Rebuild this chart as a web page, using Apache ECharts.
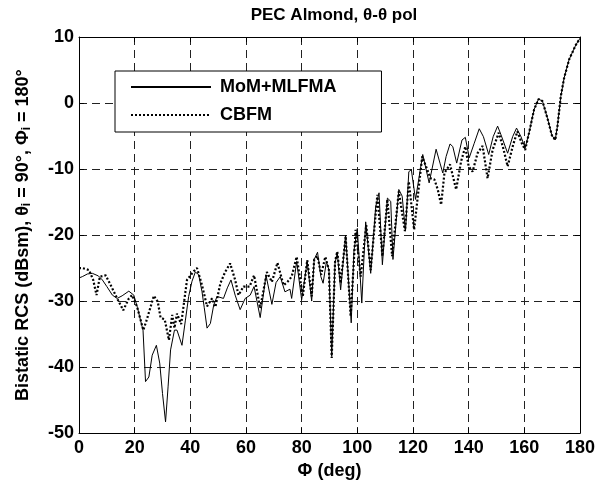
<!DOCTYPE html>
<html lang="en">

<head>
    <meta charset="UTF-8">
    <script src="https://cdn.jsdelivr.net/npm/echarts@6/dist/echarts.min.js"></script>
    <title>PEC Almond</title>
</head>

<body style="margin:0;background:#fff;">
    <div id="main" style="height: 485px;width: 608px;"></div>

    <script>
        var momPhi = [0, 1.2, 3, 4.8, 7, 8.4, 10, 12, 13.7, 15.5, 17.9, 19.7, 21, 22.1, 23, 23.9, 25.1, 26.3, 27.8, 29, 30, 31.1, 32, 32.9,
            34.3, 35.2, 37, 38.2, 39.4, 40.6, 41.8, 43, 44.2, 45, 46, 47.2, 48.4, 49.6, 51.9, 53.3, 54.6, 56.1, 57.9, 59.7, 61.5, 62.9,
            65.1, 67.2, 69.3, 70.8, 72.3, 74, 75.8, 76.4, 78.2, 80, 82, 83.6, 84.5, 85.7, 86.9, 87.7, 88.9, 89.8, 90.8, 92, 92.8, 94,
            95.8, 97.8, 98.8, 100, 101.6, 103, 104.8, 106.6, 107.8, 109, 110.8, 112, 112.8, 114.9, 116.1, 117.3, 118.5, 119.4, 120.9,
            123.5, 125.8, 128.3, 129.7, 130.7, 131.9, 133.3, 134.3, 135.7, 137.6, 138.8, 140.2, 142, 143.8, 145.3, 147.2, 148.8, 150.4,
            151.6, 154, 155.8, 157.2, 158.8, 160.3, 161.7, 163.5, 165.1, 166.5, 168.3, 169.9, 171.1, 171.9, 173.1, 174.3, 176.1, 178.5, 180];
        var momRcs = [-26.5, -26.3, -25.9, -25.8, -26.2, -26.8, -27.8, -29.1, -29.6, -29.2, -28.5, -29.1, -31, -32.9, -34.4, -42.2, -41.5, -38.2, -36.7, -39.4, -44, -48.3, -43, -37.4,
            -34.4, -34.4, -36.7, -33, -29.3, -27, -25.6, -26, -28.6, -31, -34.1, -33.4, -30.6, -29.3, -29.6, -28, -26.8, -29.1, -31.3, -29.6, -29.1, -27.8,
            -32.5, -26.1, -30.5, -27.2, -26.3, -28.6, -28.2, -29.6, -24, -29.8, -24, -30, -23.7, -22.6, -26.3, -27.3, -24, -25.3, -38.4, -24.2, -22.7, -28.3,
            -20, -33.3, -22.3, -19, -30.3, -18, -25.8, -15.7, -13.6, -24.5, -14.4, -14.9, -23.7, -13.1, -14.1, -19.4, -10.4, -10.1, -14.6,
            -7.8, -12.1, -7, -9.1, -10.6, -8.1, -6.2, -6.6, -9.1, -5.6, -5.2, -8.3, -6.1, -3.9, -5.1, -7.8, -5.1, -3.5,
            -4.8, -7.6, -5.1, -3.8, -5.1, -6.8, -4.5, -1, 0.6, 0.3, -2.3, -4.9, -5.6, -3.5, 1, 3.8, 6.6, 8.8, 9.8];

        var cbfmPhi = [0, 1.2, 3.6, 5.1, 6.3, 7.5, 9.6, 11.4, 13.7, 15.9, 17.9, 19.1, 20.9, 23.1, 24.3, 26.9, 28.3, 29.3, 30.8, 32.3, 33.5,
            34.3, 35.2, 36.7, 38.8, 41.2, 42.4, 44.2, 46, 47.8, 49, 50.8, 52.5, 54.3, 56.1, 57.3, 59.1, 61.3, 62.9, 65.1, 67.5, 69.3,
            71.3, 73.5, 74.9, 76.4, 78.2, 80.4, 82, 83.6, 84.5, 85.7, 87, 88.5, 89.8, 90.8, 92, 92.8, 94, 95.8, 97.6, 99.4, 101.2, 103.2,
            104.8, 107.2, 109, 110.8, 112.5, 114.9, 117.1, 118.5, 120.4, 123.3, 126.3, 127.7, 128.9, 130.1, 131.3, 133.3, 135.5, 137.3,
            138.8, 140, 141.4, 143.2, 145, 146.8, 148.6, 150.8, 152.4, 154, 156, 157.5, 159.1, 160.3, 161.7, 163.5, 165.1, 166.5, 168.3,
            169.9, 171.1, 171.9, 173.1, 174.3, 176.1, 178.5, 180];
        var cbfmRcs = [-25, -25, -25.3, -26.8, -29.1, -26.3, -26.1, -27.6, -29.6, -31.4, -29.6, -29.1, -30.9, -34.4, -32.9, -29.2, -30.1, -32.5, -32.8, -35.9, -32.1,
            -34.1, -31.9, -33.5, -26.8, -25.5, -25, -27.6, -30.8, -29.6, -30.9, -27.3, -25.6, -24.3, -26.8, -29.1, -27.8, -27.8, -26.1, -31.1, -25.6, -27.1,
            -24.2, -27.6, -27.1, -26.3, -23.3, -29.3, -23.8, -29.3, -23.7, -23.2, -26, -23.3, -25.3, -38.6, -24, -22.5, -27.3, -20.2, -32.3, -19.2, -26.3, -18.5,
            -25.3, -13.9, -23.2, -14.6, -23.2, -13.4, -19.4, -11.9, -19.2, -8.1, -11.4, -11.6, -13.1, -15.4, -10.6, -9.3, -13.1, -8.8,
            -6.6, -9.6, -10.4, -7.6, -6.5, -11.4, -7.1, -4.5, -6.8, -9.6, -6.3, -4.3, -6.1, -7.1, -4.5, -1, 0.6, 0.3, -2.3,
            -4.9, -5.6, -3.5, 1, 3.8, 6.6, 8.8, 9.8];

        var xTicks = [0, 180, 20];   // min, max, step
        var yTicks = [-50, 10, 10];

        function pairs(xs, ys) {
            return xs.map(function (x, i) { return [x, ys[i]]; });
        }

        var font = 'Arial, "Liberation Sans", sans-serif';
        var labelStyle = { color: '#000', fontWeight: 'bold', fontSize: 18, fontFamily: font };
        var tick = { inside: true, length: 5, lineStyle: { color: '#000' } };
        var frame = { onZero: false, lineStyle: { color: '#000', width: 1 } };
        var grid = { lineStyle: { color: '#222', type: [8, 5], width: 1 } };

        var chartDom = document.getElementById('main');
        var myChart = echarts.init(chartDom);
        var option = {
            backgroundColor: '#fff',
            animation: false,
            title: {
                text: 'PEC Almond, θ-θ pol',
                left: 329,
                top: 2,
                textAlign: 'center',
                textStyle: { color: '#000', fontWeight: 'bold', fontSize: 17, fontFamily: font }
            },
            legend: {
                left: 115,
                top: 71,
                orient: 'vertical',
                padding: [7, 45, 8, 15],
                itemGap: 10,
                itemWidth: 80,
                itemHeight: 16,
                borderColor: '#000',
                borderWidth: 1,
                backgroundColor: '#fff',
                // line series put a circle in the legend icon: hide it
                itemStyle: { opacity: 0 },
                textStyle: { color: '#000', fontWeight: 'bold', fontSize: 18, lineHeight: 16, fontFamily: font, padding: [0, 0, 0, 4] },
                data: ['MoM+MLFMA', 'CBFM']
            },
            grid: { left: 79, right: 28, top: 37, bottom: 51, containLabel: false },
            xAxis: [{
                type: 'value',
                min: xTicks[0], max: xTicks[1], interval: xTicks[2],
                name: 'Φ (deg)',
                nameLocation: 'middle',
                nameGap: 20,
                nameTextStyle: labelStyle,
                axisLine: frame,
                axisTick: tick,
                axisLabel: Object.assign({ margin: 6 }, labelStyle),
                splitLine: grid
            }, {
                type: 'value', position: 'top',
                min: xTicks[0], max: xTicks[1], interval: xTicks[2],
                axisLine: frame,
                axisTick: tick,
                axisLabel: { show: false },
                splitLine: { show: false }
            }],
            yAxis: [{
                type: 'value',
                min: yTicks[0], max: yTicks[1], interval: yTicks[2],
                name: '{a|Bistatic RCS (dBsm), θ}{s|i}{a| = 90°, Φ}{s|i}{a| = 180°}',
                nameLocation: 'middle',
                nameRotate: 90,
                nameGap: 46,
                nameTextStyle: {
                    rich: {
                        a: { color: '#000', fontWeight: 'bold', fontSize: 18, fontFamily: font },
                        s: { color: '#000', fontWeight: 'bold', fontSize: 12, fontFamily: font, padding: [8, 0, 0, 0] }
                    }
                },
                axisLine: frame,
                axisTick: tick,
                axisLabel: Object.assign({ margin: 5 }, labelStyle),
                splitLine: grid
            }, {
                type: 'value', position: 'right',
                min: yTicks[0], max: yTicks[1], interval: yTicks[2],
                axisLine: Object.assign({ show: true }, frame),
                axisTick: Object.assign({ show: true }, tick),
                axisLabel: { show: false },
                splitLine: { show: false }
            }],
            series: [
                {
                    name: 'MoM+MLFMA',
                    type: 'line',
                    symbol: 'none',
                    color: '#000',
                    lineStyle: { color: '#000', width: 1 },
                    data: pairs(momPhi, momRcs)
                },
                {
                    name: 'CBFM',
                    type: 'line',
                    symbol: 'none',
                    color: '#000',
                    lineStyle: { color: '#000', width: 2.2, type: [2, 2] },
                    data: pairs(cbfmPhi, cbfmRcs)
                }
            ]
        };
        myChart.setOption(option);
    </script>
</body>

</html>
